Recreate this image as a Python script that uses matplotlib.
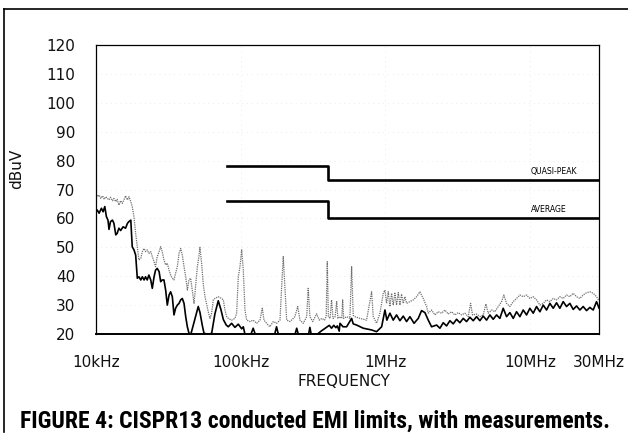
import matplotlib
matplotlib.use("Agg")
import matplotlib.pyplot as plt
from matplotlib import font_manager
from matplotlib.lines import Line2D
from matplotlib.ticker import FixedLocator, NullLocator

# ---------------- data ----------------
peak_khz = [10.0, 10.2, 10.5, 10.8, 11.1, 11.4, 11.7, 12.0, 12.3, 12.6, 13.0, 13.3, 13.7, 14.0, 14.4,
            14.8, 15.2, 15.6, 16.0, 16.5, 16.9, 17.4, 17.8, 18.3, 18.8, 19.3, 19.8, 20.4, 20.9, 21.5,
            22.0, 22.6, 23.2, 23.9, 24.5, 25.2, 25.8, 26.5, 27.3, 28.0, 28.7, 29.5, 30.3, 31.1, 32.0,
            32.8, 33.7, 34.6, 35.5, 36.5, 37.5, 38.5, 39.5, 40.6, 41.7, 42.8, 43.9, 45.1, 46.3, 47.6,
            48.8, 50.2, 51.5, 52.3, 53.7, 55.2, 56.7, 59.7, 61.4, 63.0, 64.7, 66.4, 70.0, 73.9, 75.9,
            77.9, 80.0, 82.1, 86.6, 91.3, 93.8, 96.3, 98.9, 101.6, 104.3, 107.1, 110, 116, 122, 129,
            136, 141, 145, 151, 159, 168, 177, 187, 192, 197, 202, 208, 219, 231, 237,
            248, 257, 271, 286, 293, 301, 315, 335, 350, 365, 380, 390, 397, 404, 415,
            425, 435, 450, 461, 470, 486, 500, 507, 515, 540, 569, 585, 600, 616, 668,
            742, 804, 825, 870, 918, 968, 994, 1020, 1048, 1076, 1105, 1134, 1165, 1196, 1229,
            1262, 1295, 1330, 1366, 1403, 1479, 1560, 1645, 1734, 1829, 1929, 1981, 2088, 2202, 2322,
            2448, 2582, 2722, 2871, 3027, 3192, 3366, 3549, 3742, 3884, 4010, 4272, 4506, 4752, 4958,
            5144, 5425, 5719, 6032, 6360, 6600, 6888, 7263, 7659, 8076, 8516, 8980, 9470, 9984, 10530,
            11100, 11710, 12350, 13020, 13730, 14480, 15260, 16090, 16970, 17890, 18870, 19900, 20980, 22120, 23330,
            24600, 25940, 27350, 28840, 30000]
peak_db = [68.7, 67.5, 68.1, 66.9, 67.8, 66.6, 67.5, 66.9, 66.4, 67.3, 66.1, 66.9, 65.8, 66.6, 64.6,
           66.1, 65.2, 66.4, 67.8, 66.4, 67.5, 65.8, 64.1, 60.6, 54.8, 50.2, 45.6, 46.2, 48.5, 49.6,
           48.5, 49.1, 47.9, 48.5, 46.8, 45.0, 43.3, 46.8, 48.5, 50.2, 48.5, 45.6, 43.9, 44.5, 42.1,
           40.4, 39.3, 38.7, 41.0, 43.3, 47.9, 49.6, 47.3, 43.3, 39.8, 35.2, 38.7, 39.3, 35.2, 30.6,
           36.4, 43.3, 47.0, 50.0, 44.5, 37.0, 32.9, 27.7, 25.4, 27.2, 31.8, 32.3, 32.9, 32.3, 31.8,
           28.3, 26.0, 25.4, 24.8, 25.4, 27.2, 39.8, 43.3, 49.1, 42.1, 28.3, 24.8, 24.3, 24.8, 23.7,
           24.8, 28.9, 24.8, 23.7, 22.5, 24.3, 23.7, 24.8, 36.4, 46.8, 36.4, 24.8, 24.3, 25.4, 26.0,
           29.5, 24.8, 23.7, 26.0, 35.8, 26.0, 24.3, 27.0, 24.8, 25.4, 24.8, 26.0, 45.0, 26.0, 25.4,
           31.8, 25.4, 26.0, 31.2, 25.4, 26.0, 25.4, 31.8, 25.4, 26.0, 25.4, 43.3, 26.5, 26.0, 25.4,
           24.8, 34.6, 26.0, 23.7, 27.2, 34.1, 35.2, 30.6, 34.6, 29.5, 34.1, 30.0, 34.1, 30.0, 34.3,
           30.0, 33.8, 30.6, 32.9, 30.6, 31.2, 31.8, 32.9, 34.6, 32.3, 29.5, 27.2, 28.3, 26.6, 27.7,
           27.2, 28.3, 26.9, 27.7, 26.6, 27.4, 26.6, 27.2, 26.0, 30.6, 26.6, 26.9, 26.0, 26.6, 30.4,
           27.2, 28.3, 27.7, 29.5, 31.2, 33.5, 30.6, 29.5, 31.2, 32.3, 33.5, 32.9, 33.5, 32.3, 32.9,
           31.8, 30.0, 30.6, 31.8, 31.2, 32.3, 31.8, 32.9, 32.3, 33.5, 32.9, 34.1, 32.9, 32.3, 33.5,
           34.3, 34.6, 34.1, 32.9, 31.5]

avg_khz = [10.0, 10.2, 10.5, 10.9, 11.2, 11.5, 11.8, 12.1, 12.3, 12.6, 13.0, 13.3, 13.7, 14.0, 14.4,
           14.8, 15.4, 16.0, 16.5, 16.9, 17.4, 17.8, 18.3, 18.8, 19.3, 19.8, 20.4, 20.9, 21.5, 22.0,
           22.6, 23.2, 23.9, 24.5, 25.2, 25.8, 26.5, 27.3, 28.0, 28.7, 29.5, 30.3, 31.1, 32.0, 32.8,
           33.7, 34.6, 35.5, 36.5, 37.5, 38.5, 39.5, 40.6, 41.7, 42.8, 43.9, 45.3, 47.6, 50.9, 52.3,
           54.3, 55.8, 59.7, 63.0, 66.4, 70.0, 73.0, 75.9, 79.5, 82.1, 86.6, 91.3, 96.3, 101.6, 104.3,
           107, 118, 122, 126, 172, 177, 182, 238, 244, 250, 295, 301, 307, 340, 360,
           396, 410, 425, 440, 455, 466, 480, 486, 510, 540, 585, 600, 633, 704, 804,
           870, 943, 994, 1025, 1076, 1134, 1196, 1262, 1330, 1403, 1479, 1580, 1689, 1781, 1878,
           1981, 2088, 2261, 2384, 2514, 2651, 2795, 2948, 3108, 3277, 3456, 3644, 3843, 4053, 4272,
           4506, 4752, 5010, 5283, 5570, 5875, 6194, 6531, 6888, 7263, 7659, 8076, 8516, 8980, 9470,
           9984, 10530, 11100, 11710, 12350, 13020, 13730, 14480, 15260, 16090, 16970, 17890, 18870, 19900, 20980,
           22120, 23330, 24600, 25940, 27350, 28840, 30000]
avg_db = [62.3, 62.9, 61.8, 63.5, 62.3, 64.1, 60.6, 59.4, 56.2, 58.9, 59.4, 58.3, 54.3, 54.8, 56.6,
          55.8, 57.1, 56.6, 58.3, 58.9, 59.4, 50.2, 49.1, 47.3, 39.3, 39.8, 38.7, 39.8, 38.7, 39.8,
          38.7, 40.4, 38.7, 35.8, 39.8, 42.1, 42.7, 41.6, 38.1, 38.7, 38.7, 35.2, 30.0, 33.5, 34.6,
          32.9, 26.6, 28.9, 30.0, 30.6, 31.8, 32.3, 30.6, 26.0, 22.5, 20.3, 20.0, 24.0, 29.5, 27.5,
          23.0, 20.2, 20.0, 20.2, 27.0, 31.5, 28.5, 25.0, 23.1, 22.5, 23.7, 22.3, 23.4, 21.8, 22.5,
          20.0, 20.0, 22.0, 20.0, 20.0, 22.5, 20.0, 20.0, 22.0, 20.0, 20.0, 22.3, 20.0, 20.0, 21.0,
          22.5, 23.0, 22.0, 23.0, 22.2, 22.8, 21.0, 23.7, 22.5, 22.5, 25.4, 23.5, 23.1, 22.0, 21.4,
          20.8, 22.5, 28.3, 24.8, 27.2, 24.8, 26.6, 24.6, 26.2, 24.3, 26.0, 23.7, 25.4, 28.1, 27.4,
          24.8, 22.5, 23.1, 22.0, 23.9, 22.8, 24.6, 23.5, 25.1, 23.9, 25.4, 24.3, 25.8, 24.6, 26.0,
          24.6, 26.2, 24.8, 26.6, 25.1, 26.6, 25.4, 28.9, 26.0, 27.4, 25.4, 27.7, 26.0, 28.3, 26.6,
          28.9, 27.2, 29.5, 27.7, 30.0, 28.3, 30.6, 28.9, 30.8, 28.9, 31.2, 29.5, 30.6, 28.5, 29.7,
          28.3, 29.5, 28.1, 29.2, 28.3, 31.2, 29.0]

limit_khz = [80, 400, 30000]
qp_limit_db = [78.2, 73.3, 73.3]
avg_limit_db = [66.1, 60.1, 60.1]

y_ticks = [20, 30, 40, 50, 60, 70, 80, 90, 100, 110, 120]
x_tick_khz = [10, 100, 1000, 10000, 30000]
x_tick_labels = ["10kHz", "100kHz", "1MHz", "10MHz", "30MHz"]

# ---------------- figure ----------------
W, H, DPI = 628, 447, 100
fig = plt.figure(figsize=(W / DPI, H / DPI), dpi=DPI, facecolor="white")
ax = fig.add_axes([96 / W, 1 - 334 / H, (599 - 96) / W, (334 - 45) / H])

hz = lambda seq: [v * 1e3 for v in seq]

ax.plot(hz(peak_khz), peak_db, color="#707070", lw=0.9, ls=(0, (1, 0.8)), zorder=2)
ax.plot(hz(avg_khz), avg_db, color="black", lw=1.2, zorder=3)
ax.plot(hz(limit_khz), qp_limit_db, color="black", lw=1.9, drawstyle="steps-post", zorder=4)
ax.plot(hz(limit_khz), avg_limit_db, color="black", lw=1.9, drawstyle="steps-post", zorder=4)

ax.text(10.1e6, qp_limit_db[-1] + 1.5, "QUASI-PEAK", fontsize=5.6, ha="left", va="bottom",
        family="DejaVu Sans")
ax.text(10.1e6, avg_limit_db[-1] + 1.5, "AVERAGE", fontsize=5.6, ha="left", va="bottom",
        family="DejaVu Sans")

ax.set_xscale("log")
ax.set_xlim(1e4, 3e7)
ax.set_ylim(20, 120)
ax.xaxis.set_major_locator(FixedLocator(hz(x_tick_khz)))
ax.set_xticklabels(x_tick_labels)
ax.xaxis.set_minor_locator(NullLocator())
ax.set_yticks(y_ticks)
ax.tick_params(axis="both", which="both", length=0, labelsize=11)
ax.tick_params(axis="x", pad=15)
ax.tick_params(axis="y", pad=15)
for lbl in ax.get_xticklabels() + ax.get_yticklabels():
    lbl.set_family("DejaVu Sans")
    lbl.set_color("#111111")

ax.grid(True, which="major", color="#d8d8d8", lw=0.5, ls=(0, (1, 6)))
for s in ax.spines.values():
    s.set_linewidth(0.9)
    s.set_color("black")
ax.spines["bottom"].set_linewidth(1.4)

fig.text(16.5 / W, 1 - 169 / H, "dBuV", rotation=90, ha="center", va="center",
         fontsize=11, family="DejaVu Sans", color="#111111")
fig.text(344 / W, 1 - 381 / H, "FREQUENCY", ha="center", va="center",
         fontsize=11, family="DejaVu Sans", color="#111111")

# caption in a condensed bold face
names = {f.name for f in font_manager.fontManager.ttflist}
cap_family = "DejaVu Sans"
for cand in ["Roboto Condensed", "Archivo Narrow", "Fira Sans Condensed", "Barlow Condensed",
             "IBM Plex Sans Condensed", "Liberation Sans Narrow"]:
    if cand in names:
        cap_family = cand
        break
cap = fig.text(20 / W, 1 - 421 / H, "FIGURE 4: CISPR13 conducted EMI limits, with measurements.",
               ha="left", va="center", fontsize=16, fontweight="bold", family=cap_family, color="black")
fig.canvas.draw()
bb = cap.get_window_extent()
cap.set_fontsize(16 * 590 / bb.width)

# frame of the figure
fig.add_artist(Line2D([4 / W, 4 / W], [1 - 9 / H, 1 - 432 / H], transform=fig.transFigure,
                      color="black", lw=1.2))
fig.add_artist(Line2D([4 / W, 1.0], [1 - 9 / H, 1 - 9 / H], transform=fig.transFigure,
                      color="black", lw=1.2))

fig.savefig("out.png", dpi=DPI, facecolor="white")
